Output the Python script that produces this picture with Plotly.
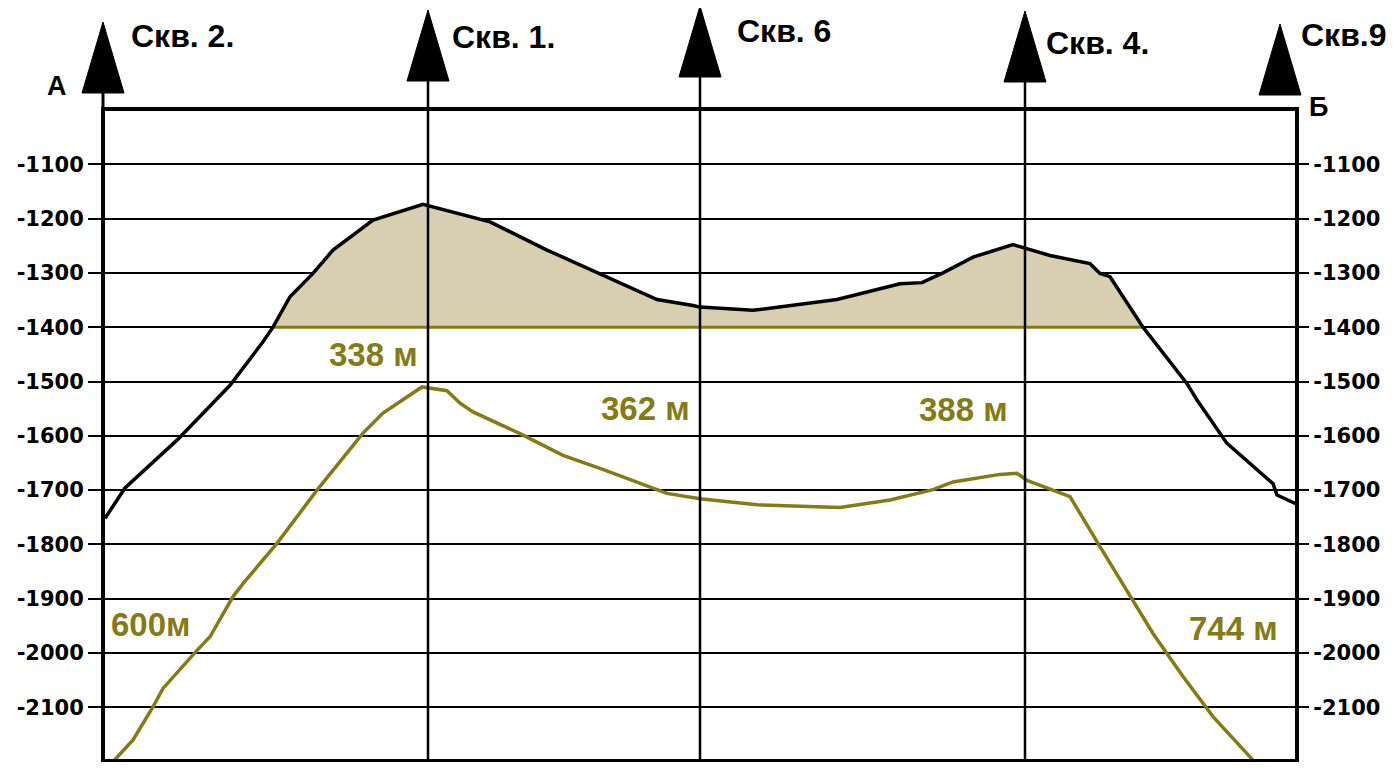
import numpy as np
import plotly.graph_objects as go

# ---------------- data ----------------
# horizontal distance along profile A-Б (relative units), depths in metres
top_x = [2, 22, 74, 127, 160, 170, 187, 210, 230, 270, 320, 387, 444, 500, 554, 590, 597,
         650, 734, 797, 819, 840, 870, 910, 947, 987, 997, 1007, 1040, 1084, 1094, 1124,
         1170, 1174, 1194]
top_y = [-1752, -1696, -1608, -1507, -1427, -1400, -1344, -1301, -1258, -1203, -1174, -1206,
         -1258, -1304, -1349, -1360, -1363, -1369, -1349, -1320, -1318, -1300, -1271, -1248,
         -1268, -1283, -1301, -1307, -1400, -1504, -1534, -1614, -1688, -1709, -1726]

base_x = [10, 30, 50, 60, 94, 107, 130, 140, 174, 214, 260, 280, 319, 344, 357, 370, 417,
          460, 497, 564, 597, 654, 737, 787, 830, 850, 897, 914, 924, 967, 997, 1037, 1050,
          1080, 1110, 1150]
base_y = [-2200, -2160, -2099, -2065, -1995, -1970, -1896, -1872, -1798, -1700, -1595, -1558,
          -1510, -1517, -1540, -1556, -1596, -1636, -1660, -1706, -1716, -1727, -1732, -1718,
          -1699, -1685, -1671, -1669, -1682, -1712, -1804, -1927, -1964, -2043, -2117, -2197]

contact_level = -1400

well_names = ["Скв. 2.", "Скв. 1.", "Скв. 6", "Скв. 4.", "Скв.9"]
well_x = [0, 325, 597, 922, 1177]

thick_labels = ["338 м", "362 м", "388 м", "600м", "744 м"]
thick_label_x = [270, 542, 860, 47, 1130]
thick_label_y = [-1450, -1549, -1551, -1948, -1954]

y_ticks = [-1100, -1200, -1300, -1400, -1500, -1600, -1700, -1800, -1900, -2000, -2100]
y_ticktext = [str(v) for v in y_ticks]

X_RANGE = [2, 1192]
Y_RANGE = [-2195, -1002]

# ---------------- styles / layout ----------------
OLIVE = "#847B15"
TAN = "#D8CEB1"
OFF = 8                      # page body margin
W, H = 1388, 754
ML, MR, MT, MB = 97, 101, 103, 3
PW, PH = W - ML - MR, H - MT - MB
SCR_LEFT = OFF + ML          # screen x of plot left edge
SCR_BOTTOM = OFF + H - MB    # screen y of plot bottom edge


def xp(x):
    return (x - X_RANGE[0]) / (X_RANGE[1] - X_RANGE[0])


def sx(px):
    return (px - SCR_LEFT) / PW


def sy(py):
    return (SCR_BOTTOM - py) / PH


# fill polygon: part of top surface above contact level
tx = np.array(top_x, float)
ty = np.array(top_y, float)
idx = np.where(ty >= contact_level)[0]
i0, i1 = idx[0], idx[-1]
fx, fy = list(tx[i0:i1 + 1]), list(ty[i0:i1 + 1])
if ty[i0] > contact_level and i0 > 0:
    xl = np.interp(contact_level, [ty[i0 - 1], ty[i0]], [tx[i0 - 1], tx[i0]])
    fx.insert(0, xl); fy.insert(0, contact_level)
if ty[i1] > contact_level and i1 < len(tx) - 1:
    xr = np.interp(contact_level, [ty[i1 + 1], ty[i1]], [tx[i1 + 1], tx[i1]])
    fx.append(xr); fy.append(contact_level)

fig = go.Figure()
fig.add_trace(go.Scatter(x=fx, y=fy, fill="toself", fillcolor=TAN, mode="none",
                         hoverinfo="skip", showlegend=False))
fig.add_trace(go.Scatter(x=[fx[0], fx[-1]], y=[contact_level, contact_level], mode="lines",
                         line=dict(color=OLIVE, width=3), showlegend=False))
fig.add_trace(go.Scatter(x=top_x, y=top_y, mode="lines",
                         line=dict(color="black", width=3.5), showlegend=False))
fig.add_trace(go.Scatter(x=base_x, y=base_y, mode="lines",
                         line=dict(color=OLIVE, width=3.5), showlegend=False))
fig.add_trace(go.Scatter(x=[None], y=[None], yaxis="y2", showlegend=False))

# well markers (triangles) and well lines
tri_base_px = [93, 81, 77, 82, 95]   # screen row of triangle base
tri_w, tri_h = 42, 71
shapes = []
for i, (name, wx) in enumerate(zip(well_names, well_x)):
    cx = xp(wx)
    yb = sy(tri_base_px[i])
    yt = yb + tri_h / PH
    hw = (tri_w / 2) / PW
    shapes.append(dict(type="path", xref="paper", yref="paper",
                       path=f"M {cx-hw} {yb} L {cx+hw} {yb} L {cx} {yt} Z",
                       fillcolor="black", line=dict(color="black", width=1), layer="above"))
    if 0 < i < len(well_x) - 1:
        shapes.append(dict(type="line", xref="x", yref="paper", x0=wx, x1=wx,
                           y0=-(MB + 2) / PH, y1=yb, line=dict(color="black", width=2.5),
                           layer="above"))
    elif i == 0:
        shapes.append(dict(type="line", xref="paper", yref="paper", x0=cx, x1=cx,
                           y0=1, y1=yb, line=dict(color="black", width=3), layer="above"))

annotations = []
label_dx = [26, 22, 35, 19, 19]
label_sy = [36, 37, 31, 43, 35]
for i, (name, wx) in enumerate(zip(well_names, well_x)):
    annotations.append(dict(x=xp(wx), y=sy(label_sy[i]), xref="paper", yref="paper",
                            text=f"<b>{name}</b>", showarrow=False, xanchor="left",
                            yanchor="middle", xshift=label_dx[i],
                            font=dict(family="Liberation Sans, Arial", size=32, color="black")))

annotations.append(dict(x=sx(57), y=sy(86), xref="paper", yref="paper",
                        text="<b>А</b>", showarrow=False, xanchor="center", yanchor="middle",
                        font=dict(family="Liberation Sans, Arial", size=27, color="black")))
annotations.append(dict(x=sx(1318), y=sy(107), xref="paper", yref="paper",
                        text="<b>Б</b>", showarrow=False, xanchor="center", yanchor="middle",
                        font=dict(family="Liberation Sans, Arial", size=27, color="black")))

for t, x, y in zip(thick_labels, thick_label_x, thick_label_y):
    annotations.append(dict(x=x, y=y, xref="x", yref="y", text=f"<b>{t}</b>", showarrow=False,
                            xanchor="center", yanchor="middle",
                            font=dict(family="Liberation Sans, Arial", size=33, color=OLIVE)))

tickfont = dict(family="DejaVu Sans", size=21, color="black", weight="bold")

fig.update_layout(
    width=W, height=H,
    margin=dict(l=ML, r=MR, t=MT, b=MB),
    paper_bgcolor="white", plot_bgcolor="white",
    showlegend=False,
    xaxis=dict(range=X_RANGE, showgrid=False, zeroline=False, showticklabels=False,
               ticks="", showline=True, linecolor="black", linewidth=4, mirror=True),
    yaxis=dict(range=Y_RANGE, tickvals=y_ticks, ticktext=y_ticktext, showgrid=True,
               gridcolor="black", gridwidth=2, zeroline=False, ticks="outside", ticklen=13,
               tickwidth=2, tickcolor="black", showline=True, linecolor="black",
               linewidth=4, mirror=True, tickfont=tickfont),
    yaxis2=dict(range=Y_RANGE, tickvals=y_ticks, ticktext=y_ticktext, overlaying="y",
                side="right", showgrid=False, zeroline=False, ticks="outside", ticklen=13,
                tickwidth=2, tickcolor="black", showline=False, tickfont=tickfont),
    shapes=shapes,
    annotations=annotations,
)

fig.write_html("out.html")
